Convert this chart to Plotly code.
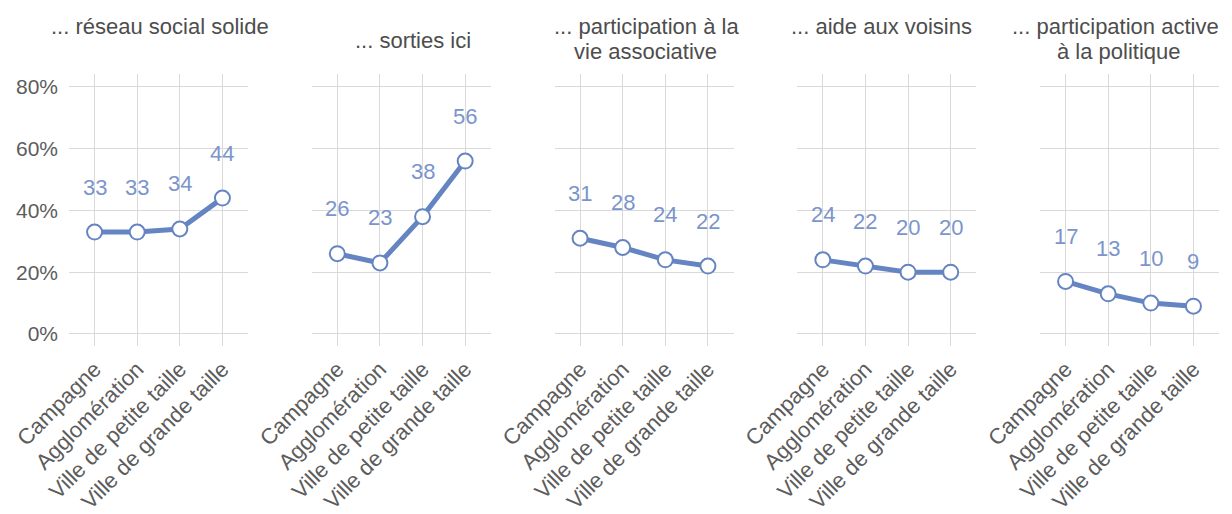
import plotly.graph_objects as go
from plotly.subplots import make_subplots

# Categories of place of residence
categories = ["Campagne", "Agglomération", "Ville de petite taille", "Ville de grande taille"]

# Share (%) per theme
reseau_social = [33, 33, 34, 44]
sorties = [26, 23, 38, 56]
vie_associative = [31, 28, 24, 22]
aide_voisins = [24, 22, 20, 20]
politique = [17, 13, 10, 9]

panel_titles = [
    ["... réseau social solide"],
    ["... sorties ici"],
    ["... participation à la", "vie associative"],
    ["... aide aux voisins"],
    ["... participation active", "à la politique"],
]
series = [reseau_social, sorties, vie_associative, aide_voisins, politique]

y_ticks = [0, 20, 40, 60, 80]
y_tick_labels = [f"{v}%" for v in y_ticks]

# Styling / layout
FONT = "Liberation Sans, Arial, Helvetica, sans-serif"
LINE_COLOR = "#6585c2"
LABEL_COLOR = "#7b95cc"
GRID_COLOR = "#d9d9d9"
TEXT_COLOR = "#4d4d4d"
TICK_COLOR = "#5c5c5c"

W, H = 1232, 514
M_L, M_R, M_T, M_B = 69, 13, 74, 168
PLOT_W = W - M_L - M_R
PLOT_H = H - M_T - M_B
PANEL_W = 179
PANEL_STEP = 242.75

# title placement (pixel centres) for each panel, one entry per line
title_x = [[160], [413], [646, 645], [881], [1115, 1119]]
title_y = [[27], [40], [27, 51], [27], [27, 51]]

fig = make_subplots(rows=1, cols=5)

annotations = []
for i, vals in enumerate(series):
    col = i + 1
    fig.add_trace(
        go.Scatter(
            x=categories,
            y=vals,
            mode="lines+markers",
            line=dict(color=LINE_COLOR, width=5),
            marker=dict(size=15, color="white", line=dict(color=LINE_COLOR, width=2)),
            hoverinfo="x+y",
            showlegend=False,
        ),
        row=1,
        col=col,
    )
    xref = "x" if i == 0 else f"x{col}"
    yref = "y" if i == 0 else f"y{col}"
    for c, v in zip(categories, vals):
        annotations.append(
            dict(
                x=c, y=v, xref=xref, yref=yref,
                text=str(v), showarrow=False, yshift=45,
                font=dict(family=FONT, size=22, color=LABEL_COLOR),
            )
        )
    for line_text, px, py in zip(panel_titles[i], title_x[i], title_y[i]):
        annotations.append(
            dict(
                x=(px - M_L) / PLOT_W, y=(M_T + PLOT_H - py) / PLOT_H,
                xref="paper", yref="paper",
                xanchor="center", yanchor="middle",
                text=line_text, showarrow=False,
                font=dict(family=FONT, size=22, color=TEXT_COLOR),
            )
        )

    start = PANEL_STEP * i / PLOT_W
    end = min(1.0, (PANEL_STEP * i + PANEL_W) / PLOT_W)
    fig.update_xaxes(
        domain=[start, end],
        range=[-0.6, 3.6],
        automargin=False,
        showgrid=True, gridcolor=GRID_COLOR, gridwidth=1,
        zeroline=False, showline=False, ticks="",
        tickangle=-45,
        ticklabelstandoff=5,
        tickfont=dict(family=FONT, size=22, color=TICK_COLOR),
        row=1, col=col,
    )
    fig.update_yaxes(
        range=[-3.9, 84.2],
        automargin=False,
        tickmode="array",
        tickvals=y_ticks,
        ticktext=y_tick_labels,
        showticklabels=(i == 0),
        ticklabelstandoff=10,
        showgrid=True, gridcolor=GRID_COLOR, gridwidth=1,
        zeroline=False, showline=False, ticks="",
        tickfont=dict(family=FONT, size=21, color=TICK_COLOR),
        row=1, col=col,
    )

fig.update_layout(
    width=W,
    height=H,
    margin=dict(l=M_L, r=M_R, t=M_T, b=M_B),
    plot_bgcolor="white",
    paper_bgcolor="white",
    font=dict(family=FONT, color=TEXT_COLOR),
    annotations=annotations,
)

fig.write_html("out.html")
